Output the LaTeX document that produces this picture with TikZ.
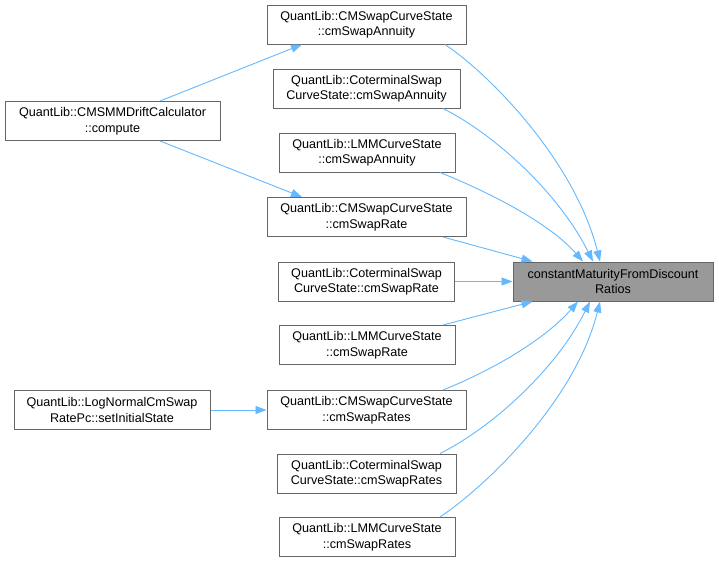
\documentclass[tikz,border=0pt]{standalone}
\usepackage{fontspec}
\setmainfont{Liberation Sans}
\usetikzlibrary{arrows.meta}
\definecolor{edgeblue}{HTML}{63B8FF}
\definecolor{boxgray}{HTML}{666666}
\definecolor{targetgray}{HTML}{999999}
\tikzset{
  fn/.style={draw=boxgray, line width=1pt, fill=white, inner sep=0pt, minimum height=39pt,
    align=center, font=\fontsize{12.6}{15.5}\selectfont},
  target/.style={fn, fill=targetgray},
  link/.style={draw=edgeblue, line width=0.9pt, -{Triangle[length=11pt,width=8pt]}}
}
\begin{document}
\begin{tikzpicture}[x=1pt,y=-1pt]
\useasboundingbox (0,0) rectangle (719,563);
\node[target, minimum width=200pt] (tgt) at (613,281.5) {constantMaturityFromDiscount\\Ratios};
\node[fn, minimum width=199pt] (ann1) at (366.5,24.5) {QuantLib::CMSwapCurveState\\::cmSwapAnnuity};
\node[fn, minimum width=187pt] (ann2) at (366.5,88.5) {QuantLib::CoterminalSwap\\CurveState::cmSwapAnnuity};
\node[fn, minimum width=176pt] (ann3) at (367,152.5) {QuantLib::LMMCurveState\\::cmSwapAnnuity};
\node[fn, minimum width=199pt] (rate1) at (366.5,217) {QuantLib::CMSwapCurveState\\::cmSwapRate};
\node[fn, minimum width=176pt] (rate2) at (366.5,281.5) {QuantLib::CoterminalSwap\\CurveState::cmSwapRate};
\node[fn, minimum width=176pt] (rate3) at (367,345) {QuantLib::LMMCurveState\\::cmSwapRate};
\node[fn, minimum width=199pt] (rates1) at (366.5,410) {QuantLib::CMSwapCurveState\\::cmSwapRates};
\node[fn, minimum width=179pt] (rates2) at (366.5,473.5) {QuantLib::CoterminalSwap\\CurveState::cmSwapRates};
\node[fn, minimum width=176pt] (rates3) at (367,537) {QuantLib::LMMCurveState\\::cmSwapRates};
\node[fn, minimum width=215pt] (comp) at (112.5,121) {QuantLib::CMSMMDriftCalculator\\::compute};
\node[fn, minimum width=196pt] (logn) at (112,410) {QuantLib::LogNormalCmSwap\\RatePc::setInitialState};

\draw[link] ([xshift=78.5pt]ann1.south) .. controls +(45,30) and +(-25,-100) .. ([xshift=-13pt]tgt.north);
\draw[link] ([xshift=76.5pt]ann2.south) .. controls +(50,25) and +(-35,-70) .. ([xshift=-20pt]tgt.north);
\draw[link] ([xshift=73pt]ann3.south) .. controls +(45,18) and +(-35,-40) .. ([xshift=-30pt]tgt.north);
\draw[link] ([xshift=76.5pt]rate1.south) -- ([xshift=20pt]tgt.north west);
\draw[link] (rate2.east) -- (tgt.west);
\draw[link] ([xshift=76pt]rate3.north) -- ([xshift=20pt]tgt.south west);
\draw[link] ([xshift=76.5pt]rates1.north) .. controls +(45,-18) and +(-35,40) .. ([xshift=-35pt]tgt.south);
\draw[link] ([xshift=73.5pt]rates2.north) .. controls +(50,-25) and +(-35,70) .. ([xshift=-23pt]tgt.south);
\draw[link] ([xshift=73pt]rates3.north) .. controls +(45,-30) and +(-25,100) .. ([xshift=-13pt]tgt.south);
\draw[link] ([xshift=47.5pt]comp.north) -- ([xshift=-64.5pt]ann1.south);
\draw[link] ([xshift=47.5pt]comp.south) -- ([xshift=-64.5pt]rate1.north);
\draw[link] (logn.east) -- (rates1.west);
\end{tikzpicture}
\end{document}
